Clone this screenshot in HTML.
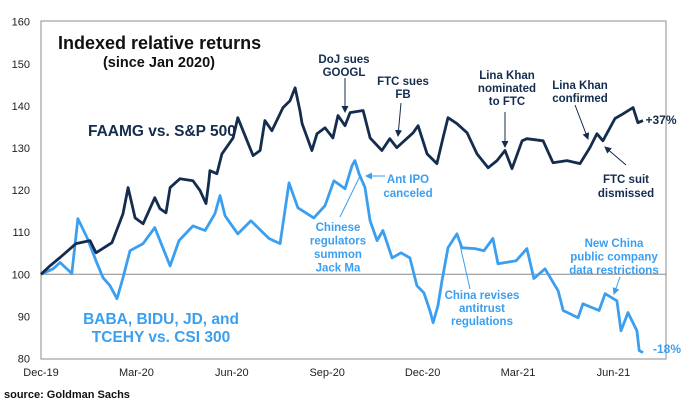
<!DOCTYPE html>
<html><head><meta charset="utf-8"><style>
body{margin:0;background:#fff;width:700px;height:405px;overflow:hidden;font-family:"Liberation Sans",Arial,sans-serif}
svg text{font-family:"Liberation Sans",Arial,sans-serif}
</style></head><body>
<svg id="chart" width="700" height="405" viewBox="0 0 700 405">
<g id="yaxis"></g>
<g id="xaxis"></g>
<rect x="41" y="21" width="625" height="338" fill="none" stroke="#a0a0a0" stroke-width="1.2"/>
<g id="series"></g>
<g font-weight="bold" font-size="11.5" text-anchor="middle">
<text x="58" y="49" font-size="18" text-anchor="start" fill="#111">Indexed relative returns</text>
<text x="159" y="67" font-size="14.5" fill="#111">(since Jan 2020)</text>
<text x="88" y="136" font-size="15.5" text-anchor="start" fill="#142c4e">FAAMG vs. S&amp;P 500</text>
<text x="161" y="324" font-size="15.5" fill="#3a9ff0">BABA, BIDU, JD, and</text>
<text x="161" y="342" font-size="15.5" fill="#3a9ff0">TCEHY vs. CSI 300</text>
<g fill="#142c4e">
<text x="344" y="63">DoJ sues<tspan x="344" dy="13">GOOGL</tspan></text>
<text x="403" y="85">FTC sues<tspan x="403" dy="13">FB</tspan></text>
<text x="507" y="79">Lina Khan<tspan x="507" dy="13">nominated</tspan><tspan x="507" dy="13">to FTC</tspan></text>
<text x="580" y="89">Lina Khan<tspan x="580" dy="13">confirmed</tspan></text>
<text x="626" y="183">FTC suit<tspan x="626" dy="14">dismissed</tspan></text>
<text x="661" y="124" font-size="12">+37%</text>
</g>
<g fill="#3a9ff0">
<text x="408" y="183">Ant IPO<tspan x="408" dy="14">canceled</tspan></text>
<text x="338" y="231">Chinese<tspan x="338" dy="13.5">regulators</tspan><tspan x="338" dy="13.5">summon</tspan><tspan x="338" dy="13.5">Jack Ma</tspan></text>
<text x="482" y="299">China revises<tspan x="482" dy="13">antitrust</tspan><tspan x="482" dy="13">regulations</tspan></text>
<text x="614" y="247">New China<tspan x="614" dy="13.5">public company</tspan><tspan x="614" dy="13.5">data restrictions</tspan></text>
<text x="667" y="353" font-size="12">-18%</text>
</g>
</g>
<defs>
<marker id="ah" markerWidth="7" markerHeight="7" refX="6" refY="3.5" orient="auto"><path d="M0,0 L7,3.5 L0,7 z" fill="#142c4e"/></marker>
<marker id="ahl" markerWidth="7" markerHeight="7" refX="6" refY="3.5" orient="auto"><path d="M0,0 L7,3.5 L0,7 z" fill="#3a9ff0"/></marker>
</defs>
<g stroke-width="1">
<line x1="345" y1="78" x2="345" y2="112" stroke="#142c4e" marker-end="url(#ah)"/>
<line x1="401" y1="103" x2="398" y2="136" stroke="#142c4e" marker-end="url(#ah)"/>
<line x1="505" y1="112" x2="505" y2="147" stroke="#142c4e" marker-end="url(#ah)"/>
<line x1="575" y1="105" x2="588" y2="139" stroke="#142c4e" marker-end="url(#ah)"/>
<line x1="626" y1="165" x2="605" y2="147" stroke="#142c4e" marker-end="url(#ah)"/>
<line x1="385" y1="176" x2="366" y2="176" stroke="#3a9ff0" marker-end="url(#ahl)"/>
<line x1="340" y1="217" x2="360" y2="176" stroke="#3a9ff0"/>
<line x1="470" y1="289" x2="460" y2="245" stroke="#3a9ff0"/>
<line x1="620" y1="277" x2="614" y2="294" stroke="#3a9ff0" marker-end="url(#ahl)"/>
</g>
<text x="4" y="398" font-size="11" font-weight="bold" fill="#111">source: Goldman Sachs</text>
</svg>
<script>
const yTicks=[80,90,100,110,120,130,140,150,160];
const xTickLabels=["Dec-19","Mar-20","Jun-20","Sep-20","Dec-20","Mar-21","Jun-21"];
const xTickMonths=[0,3,6,9,12,15,18];
const faamgT=[0,.28,.6,1.1,1.54,1.73,2.23,2.58,2.74,2.96,3.21,3.58,3.74,3.93,4.06,4.37,4.78,5,5.19,5.28,5.31,5.53,5.69,6.04,6.19,6.48,6.67,6.89,7.04,7.26,7.61,7.83,7.99,8.14,8.21,8.52,8.68,8.93,9.18,9.34,9.56,9.72,10.13,10.35,10.72,10.97,11.19,11.7,11.86,12.14,12.45,12.64,12.8,13.08,13.4,13.71,14.06,14.34,14.59,14.81,15.13,15.28,15.79,16.1,16.54,16.95,17.26,17.48,17.67,18.05,18.3,18.62,18.77,18.93];
const faamgV=[100,102,104,107.3,108,105.1,107.5,114.4,120.6,113.4,112,118.2,115.6,114.6,120.6,122.7,122.2,119.9,116.8,122.2,124.6,123.9,128.6,132.4,137.2,131.7,128.2,129.4,136.5,134.1,139.6,141.2,144.3,138.9,135.8,129.4,133.4,134.8,132.4,137.7,135.3,138.4,138.9,132.4,129.4,132.2,130.1,133.6,135.3,128.6,126.3,132.4,137.2,135.8,133.6,128.6,125.3,127,129.4,125.1,131.7,132.2,131.7,126.5,127,126.3,130.1,133.4,131.7,137,138.1,139.6,136,136.5];
const chinaT=[0,.38,.6,.97,1.16,1.45,1.73,1.95,2.17,2.39,2.58,2.8,3.21,3.58,4.06,4.34,4.78,5.16,5.47,5.63,5.79,6.19,6.6,7.17,7.52,7.8,8.08,8.58,8.93,9.21,9.56,9.78,9.87,10,10.19,10.35,10.57,10.75,11.04,11.32,11.6,11.82,12.04,12.23,12.33,12.48,12.61,12.8,13.08,13.24,13.65,13.93,14.21,14.37,14.94,15.28,15.5,15.85,16.26,16.42,16.89,17.04,17.55,17.74,18.11,18.24,18.46,18.74,18.81,18.93];
const chinaV=[100,101.3,102.8,100.2,113.2,108.7,103.2,99.2,97.3,94.2,99.2,105.6,107.3,111.1,102,108,111.5,110.4,114.4,118.7,113.9,109.6,112.7,108.5,107.3,121.7,115.8,113.4,116.3,122.2,120.3,125.8,127,123.9,120.6,112.7,108,110.4,103.9,105.1,103.9,97.3,95.6,91.4,88.5,92.5,98.5,106.3,109.6,106.3,106.1,105.6,108.5,102.5,103.2,106.1,99,101.3,96.1,91.4,89.7,93,91.4,95.4,93.7,86.6,90.9,86.6,81.9,81.4];
const X0=41,MW=31.8,Y0=358.5,YS=4.21;
const xs=m=>X0+m*MW, ys=v=>Y0-(v-80)*YS;
const NS="http://www.w3.org/2000/svg";
const yg=document.getElementById('yaxis'),xg=document.getElementById('xaxis'),sg=document.getElementById('series');
yTicks.forEach(v=>{
 const t=document.createElementNS(NS,'text');
 
 
 t.setAttribute('x',30);t.setAttribute('y',ys(v)+4);t.setAttribute('text-anchor','end');t.setAttribute('font-size','11');t.setAttribute('fill','#222');
 t.textContent=v;yg.appendChild(t);
});
const base=document.createElementNS(NS,'line');


base.setAttribute('x1',X0);base.setAttribute('x2',666);base.setAttribute('y1',ys(100));base.setAttribute('y2',ys(100));base.setAttribute('stroke','#888');base.setAttribute('stroke-width','1');
yg.appendChild(base);
xTickLabels.forEach((l,i)=>{
 const t=document.createElementNS(NS,'text');
 
 
 t.setAttribute('x',xs(xTickMonths[i]));t.setAttribute('y',376);t.setAttribute('text-anchor','middle');t.setAttribute('font-size','11');t.setAttribute('fill','#222');
 t.textContent=l;xg.appendChild(t);
});
function line(T,V,color,name){
 const p=document.createElementNS(NS,'polyline');
 
 
 p.setAttribute('points',T.map((t,i)=>xs(t).toFixed(1)+','+ys(V[i]).toFixed(1)).join(' '));
 p.setAttribute('fill','none');p.setAttribute('stroke',color);p.setAttribute('stroke-width','2.8');p.setAttribute('stroke-linejoin','round');
 sg.appendChild(p);
}
line(chinaT,chinaV,'#3a9ff0','china-tech-line');
line(faamgT,faamgV,'#142c4e','faamg-line');
</script>
</body></html>
